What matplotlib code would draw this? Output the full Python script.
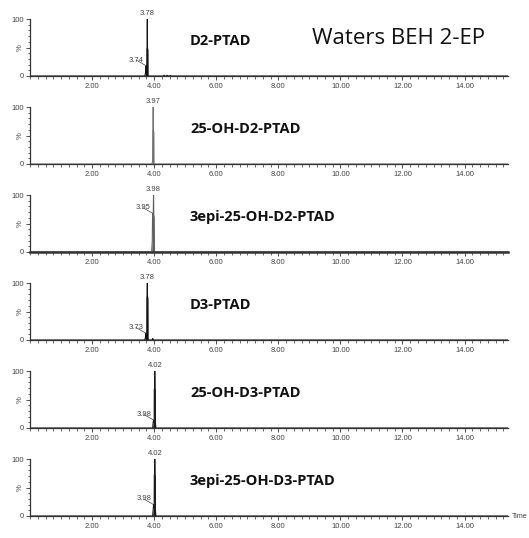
import matplotlib
matplotlib.use('Agg')
import matplotlib.pyplot as plt
from matplotlib.ticker import MultipleLocator
import numpy as np

# Chromatogram traces (time in min, intensity in %)
compounds = ["D2-PTAD", "25-OH-D2-PTAD", "3epi-25-OH-D2-PTAD",
             "D3-PTAD", "25-OH-D3-PTAD", "3epi-25-OH-D3-PTAD"]
main_rt = [3.78, 3.97, 3.98, 3.78, 4.02, 4.02]
minor_rt = [3.74, None, 3.95, 3.73, 3.98, 3.98]

times = [
    [0.0, 3.70, 3.73, 3.74, 3.75, 3.76, 3.765, 3.775, 3.78, 3.785, 3.795, 3.80,
     4.30, 4.32, 4.34, 4.40, 4.42, 4.44, 4.50, 4.52, 4.54, 15.4],
    [0.0, 3.93, 3.95, 3.955, 3.965, 3.97, 3.975, 3.985, 3.99, 15.4],
    [0.0, 3.92, 3.94, 3.95, 3.96, 3.97, 3.98, 3.985, 3.995, 4.01, 15.4],
    [0.0, 3.70, 3.72, 3.73, 3.745, 3.76, 3.765, 3.775, 3.78, 3.785, 3.795, 3.80,
     3.93, 3.95, 3.97, 15.4],
    [0.0, 3.95, 3.97, 3.98, 3.99, 4.00, 4.005, 4.015, 4.02, 4.025, 4.035, 4.04,
     4.05, 15.4],
    [0.0, 3.95, 3.97, 3.98, 3.99, 4.00, 4.005, 4.015, 4.02, 4.025, 4.035, 4.04,
     4.05, 15.4],
]
intensities = [
    [0, 0, 8, 18, 6, 0, 48, 50, 100, 50, 45, 0,
     0, 1.5, 0, 0, 1.5, 0, 0, 1, 0, 0],
    [0, 0, 5, 58, 60, 100, 60, 55, 0, 0],
    [0, 0, 20, 68, 64, 65, 100, 64, 62, 0, 0],
    [0, 0, 5, 12, 4, 0, 75, 78, 100, 78, 72, 0, 0, 3, 0, 0],
    [0, 0, 10, 14, 12, 10, 68, 70, 100, 70, 66, 12, 0, 0],
    [0, 0, 12, 20, 16, 14, 72, 75, 100, 74, 70, 15, 0, 0],
]

trace_colors = ['#111111', '#707070', '#606060', '#111111', '#1a1a1a', '#1a1a1a']
spine_widths = [0.9, 0.9, 1.8, 0.9, 0.9, 0.9]

W, H = 529, 538
fig = plt.figure(figsize=(W / 100, H / 100), dpi=100)

AX_LEFT, AX_RIGHT = 30, 508
ZERO0, STEP, PANEL_H = 76, 88, 57
TICK_GREY = '#444444'
tick_font = dict(family='Liberation Sans', size=5.5, color=TICK_GREY)

for i, name in enumerate(compounds):
    zero_y = ZERO0 + i * STEP
    ax = fig.add_axes([AX_LEFT / W, (H - zero_y) / H,
                       (AX_RIGHT - AX_LEFT) / W, PANEL_H / H])
    t = np.array(times[i])
    y = np.array(intensities[i])
    ax.fill_between(t, y, color=trace_colors[i], lw=0)
    ax.plot(t, y, color=trace_colors[i], lw=0.8, solid_joinstyle='miter')

    ax.set_xlim(0, 15.4)
    ax.set_ylim(0, 100)

    for s in ['top', 'right']:
        ax.spines[s].set_visible(False)
    ax.spines['left'].set_color('#333333')
    ax.spines['left'].set_linewidth(0.9)
    ax.spines['bottom'].set_color('#333333')
    ax.spines['bottom'].set_linewidth(spine_widths[i])

    ax.xaxis.set_minor_locator(MultipleLocator(0.25))
    ax.set_xticks(np.arange(2, 15, 2))
    ax.set_xticklabels([f"{v:.2f}" for v in np.arange(2, 15, 2)], **tick_font)
    ax.yaxis.set_minor_locator(MultipleLocator(10))
    ax.set_yticks([0, 50, 100])
    ax.set_yticklabels(['0', '%', '100'], **tick_font)
    ax.get_yticklabels()[1].set_rotation(90)
    ax.get_yticklabels()[1].set_va('center')
    ax.tick_params(axis='both', which='major', direction='out', length=3,
                   width=0.6, color='#333333', pad=1.5)
    ax.tick_params(axis='both', which='minor', direction='out', length=1.8,
                   width=0.5, color='#333333')
    ax.tick_params(axis='x', which='major', pad=2)

    # peak apex labels
    rt = main_rt[i]
    top = np.interp(rt, t, y)
    ax.text(rt, top + 3, f"{rt:.2f}", ha='center', va='bottom',
            clip_on=False, **tick_font)
    if minor_rt[i] is not None:
        rt2 = minor_rt[i]
        h2 = np.interp(rt2, t, y)
        ax.annotate(f"{rt2:.2f}", xy=(rt2, h2), xytext=(rt2 - 0.08, h2 + 10),
                    ha='right', va='center', annotation_clip=False,
                    arrowprops=dict(arrowstyle='-', lw=0.5, color=TICK_GREY,
                                    shrinkA=0, shrinkB=0),
                    **tick_font)

    ax.text((190 - AX_LEFT) / (AX_RIGHT - AX_LEFT), 0.62, name,
            transform=ax.transAxes, ha='left', va='center',
            family='Open Sans', fontweight='bold', fontsize=10.5, color='#111111')

    if i == 0:
        ax.text((312 - AX_LEFT) / (AX_RIGHT - AX_LEFT), 0.66, "Waters BEH 2-EP",
                transform=ax.transAxes, ha='left', va='center',
                family='Open Sans', fontsize=16, color='#111111')
    if i == len(compounds) - 1:
        ax.text(1.008, 0, "Time", transform=ax.transAxes, ha='left',
                va='center', family='Liberation Sans', size=5.2, color=TICK_GREY)

fig.savefig('out.png', dpi=100, facecolor='white')
